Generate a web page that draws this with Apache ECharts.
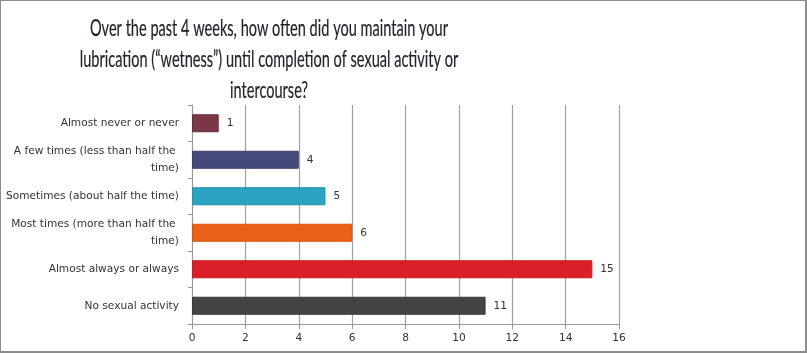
<!DOCTYPE html>
<html><head><meta charset="utf-8">
<script src="https://cdn.jsdelivr.net/npm/echarts@6/dist/echarts.min.js"></script>
<style>
html,body{margin:0;padding:0;background:#fff;}
#c{width:804px;height:350px;border-style:solid;border-color:#8c8c8c;border-width:1px 2px 2px 1px;}
</style></head><body>
<div id="c"></div>
<script>
const categories = ["Almost never or never","A few times (less than half the time)","Sometimes (about half the time)","Most times (more than half the time)","Almost always or always","No sexual activity"];
const values = [1,4,5,6,15,11];
const barColors = ["#7b3746","#464a7a","#2ba3c1","#ea6118","#da1f29","#444444"];
const borderColors = ["#6a2c3a","#3a3e68","#2290ab","#d05410","#c51a23","#3a3a3a"];
const titleLines = ["Over the past 4 weeks, how often did you maintain your","lubrication (\u201cwetness\u201d) until completion of sexual activity or","intercourse?"];

const titleFont = '24px Lato, "Noto Sans", sans-serif';
const cv = document.createElement('canvas').getContext('2d');
cv.font = titleFont;
const titleScale = 358 / cv.measureText(titleLines[0]).width;
const labelFont = '"DejaVu Sans",Verdana,sans-serif';

const chart = echarts.init(document.getElementById('c'), null, {renderer:'canvas'});
chart.setOption({
  animation:false,
  graphic:[{
    type:'text', x:268, y:12, scaleX:titleScale, scaleY:1,
    style:{text:titleLines.join('\n'), font:titleFont, textAlign:'center', textVerticalAlign:'top', lineHeight:31, fill:'#20222c', stroke:'#20222c', lineWidth:0.2}
  }],
  grid:{left:191, right:186, top:104, bottom:27, containLabel:false, outerBoundsMode:'none'},
  xAxis:{
    type:'value', min:0, max:16, interval:2,
    axisLine:{show:true, lineStyle:{color:'#999', width:1}},
    axisTick:{show:true, length:5, lineStyle:{color:'#999'}},
    splitLine:{show:true, lineStyle:{color:'#a0a0a0', width:1.2}},
    axisLabel:{fontFamily:labelFont, fontSize:10.6, color:'#333', margin:9}
  },
  yAxis:{
    type:'category', data:categories, inverse:true,
    axisLine:{show:true, lineStyle:{color:'#999'}},
    axisTick:{show:true, length:4, lineStyle:{color:'#999'}},
    axisLabel:{fontFamily:labelFont, fontSize:10.6, color:'#333', margin:13, width:176, overflow:'break', lineHeight:17, align:'right'}
  },
  series:[{
    type:'bar', barWidth:18,
    data: values.map((v,i)=>({value:v, itemStyle:{color:barColors[i], borderColor:borderColors[i], borderWidth:1}})),
    label:{show:true, position:'right', distance:8, fontFamily:labelFont, fontSize:10.6, color:'#333'}
  }]
});
</script></body></html>
